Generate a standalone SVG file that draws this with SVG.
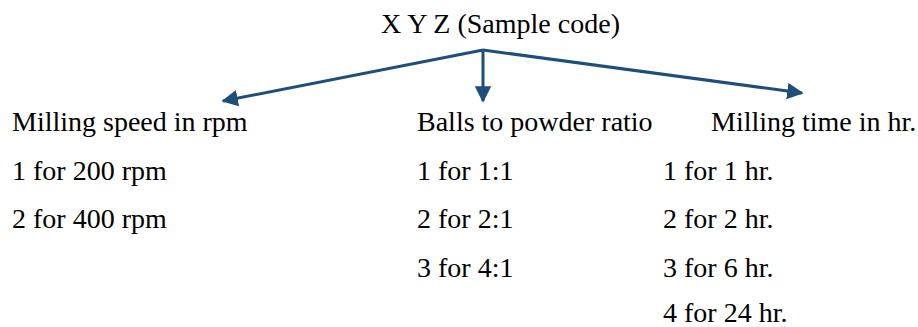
<svg xmlns="http://www.w3.org/2000/svg" width="918" height="327" viewBox="0 0 918 327">
<defs>
<style>
text{font-family:"Liberation Serif","Times New Roman",serif;font-size:28px;fill:#000}
.c{stroke:#1F4E79;stroke-width:3;fill:none}
</style>
<marker id="ah" viewBox="0 0 10 10" refX="9" refY="5" markerWidth="5.5" markerHeight="5.5" markerUnits="strokeWidth" orient="auto">
<path d="M0,0 L10,5 L0,10 z" fill="#1F4E79"/>
</marker>
</defs>
<rect width="918" height="327" fill="#fff"/>
<g id="root"><text x="381" y="33">X Y Z (Sample code)</text></g>
<g id="connectors">
<line class="c" x1="483" y1="50" x2="223" y2="101" marker-end="url(#ah)"/>
<line class="c" x1="483" y1="50" x2="483" y2="101" marker-end="url(#ah)"/>
<line class="c" x1="483" y1="50" x2="802" y2="93" marker-end="url(#ah)"/>
</g>
<g id="speed">
<text x="12" y="131">Milling speed in rpm</text>
<text x="12" y="180">1 for 200 rpm</text>
<text x="12" y="228">2 for 400 rpm</text>
</g>
<g id="ratio">
<text x="417" y="131">Balls to powder ratio</text>
<text x="417" y="180">1 for 1:1</text>
<text x="417" y="228">2 for 2:1</text>
<text x="417" y="277">3 for 4:1</text>
</g>
<g id="time">
<text x="711" y="131">Milling time in hr.</text>
<text x="663" y="180">1 for 1 hr.</text>
<text x="663" y="228">2 for 2 hr.</text>
<text x="663" y="277">3 for 6 hr.</text>
<text x="663" y="322">4 for 24 hr.</text>
</g>
</svg>
